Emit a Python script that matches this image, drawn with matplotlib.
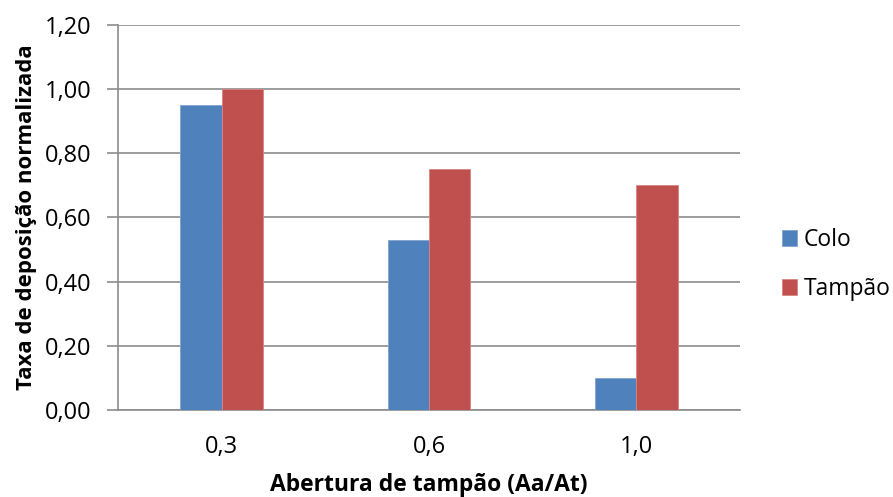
import matplotlib
matplotlib.use("Agg")
import matplotlib.pyplot as plt
import numpy as np

# Data
categories = ["0,3", "0,6", "1,0"]
colo = [0.95, 0.53, 0.10]
tampao = [1.00, 0.75, 0.70]
y_ticks = [0.0, 0.2, 0.4, 0.6, 0.8, 1.0, 1.2]
y_tick_labels = ["0,00", "0,20", "0,40", "0,60", "0,80", "1,00", "1,20"]

plt.rcParams['font.family'] = ['Open Sans', 'DejaVu Sans']

fig = plt.figure(figsize=(8.93, 4.97), dpi=100)
ax = fig.add_axes([118 / 893, 1 - 410 / 497, (740 - 118) / 893, (410 - 25) / 497])

x = np.arange(len(categories))
w = 0.2
ax.bar(x - w / 2, colo, w, color='#4F81BD', edgecolor='#7FA3D0', linewidth=0.6,
       label='Colo', zorder=3)
ax.bar(x + w / 2, tampao, w, color='#C0504D', edgecolor='#D98583', linewidth=0.6,
       label='Tampão', zorder=3)

ax.set_xlim(-0.5, len(categories) - 0.5)
ax.set_ylim(0, 1.2)
ax.set_yticks(y_ticks)
ax.set_yticklabels(y_tick_labels, fontsize=17)
ax.set_xticks(x)
ax.set_xticklabels(categories, fontsize=17)

ax.grid(axis='y', color='#8C8C8C', linewidth=1.2, zorder=0)
for s in ['top', 'right']:
    ax.spines[s].set_visible(False)
for s in ['left', 'bottom']:
    ax.spines[s].set_color('#8C8C8C')
    ax.spines[s].set_linewidth(1.2)
ax.tick_params(axis='y', length=8, color='#8C8C8C', width=1.2, pad=11)
ax.tick_params(axis='x', length=0, pad=18)

ax.set_xlabel('Abertura de tampão (Aa/At)', fontsize=16.5, fontweight='bold', labelpad=10)
ax.set_ylabel('Taxa de deposição normalizada', fontsize=16, fontweight='bold', labelpad=6)

ax.legend(loc='center left', bbox_to_anchor=(782 / 893, 1 - 264.5 / 497),
          bbox_transform=fig.transFigure, frameon=False, fontsize=16.5,
          borderpad=0, borderaxespad=0,
          handlelength=0.66, handleheight=0.66, handletextpad=0.3, labelspacing=1.1)

fig.savefig('out.png', dpi=100)
